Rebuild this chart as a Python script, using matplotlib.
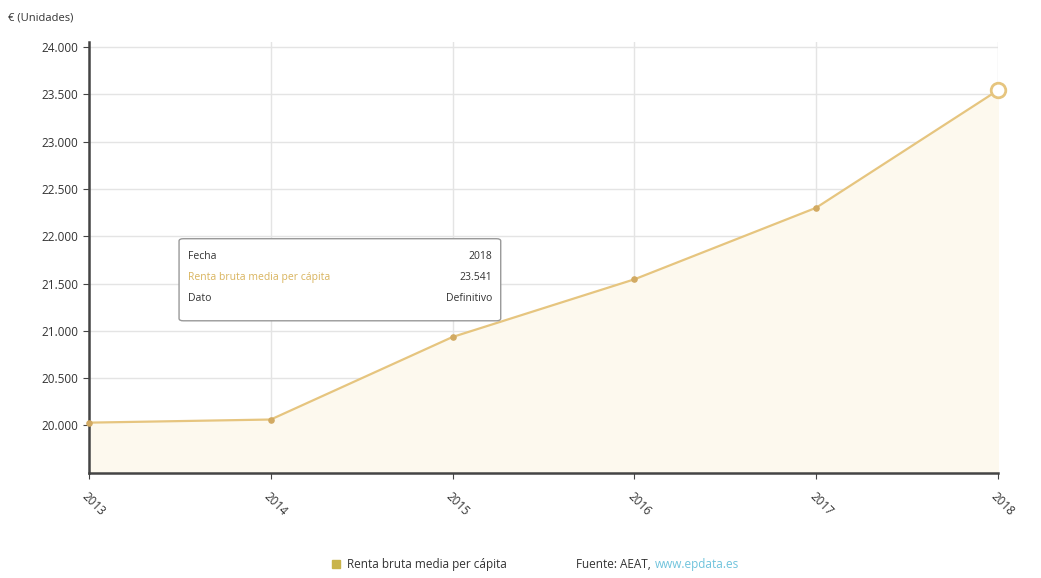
import matplotlib.pyplot as plt
from matplotlib.patches import FancyBboxPatch
from matplotlib.ticker import FuncFormatter

# Data
years = [2013, 2014, 2015, 2016, 2017, 2018]
renta = [20030, 20063, 20935, 21544, 22300, 23541]
y_ticks = [20000, 20500, 21000, 21500, 22000, 22500, 23000, 23500, 24000]

line_color = '#e6c57f'
dot_color = '#d2aa62'
fill_color = '#fdf9ee'

plt.rcParams['font.family'] = ['Open Sans', 'DejaVu Sans']

fig = plt.figure(figsize=(10.41, 5.78), dpi=100)
ax = fig.add_axes([0.0855, 0.182, 0.873, 0.745])

# Filled area and line
ax.fill_between(years, renta, 19400, color=fill_color, zorder=1)
ax.plot(years, renta, color=line_color, linewidth=1.6, zorder=3, clip_on=False)
ax.scatter(years[:-1], renta[:-1], s=14, color=dot_color, zorder=4, clip_on=False)
ax.scatter(years[-1:], renta[-1:], s=110, facecolor='white',
           edgecolor=line_color, linewidth=2, zorder=5, clip_on=False)

# Axes styling
ax.set_xlim(2013, 2018)
ax.set_ylim(19500, 24050)
ax.set_yticks(y_ticks)
ax.yaxis.set_major_formatter(FuncFormatter(lambda v, p: f'{int(v):,}'.replace(',', '.')))
ax.set_xticks(years)
ax.set_xticklabels([str(y) for y in years], rotation=-45, ha='left',
                   rotation_mode='anchor', fontsize=8.5, color='#333333')
ax.tick_params(axis='y', labelsize=8.5, labelcolor='#333333', length=4, color='#444444')
ax.tick_params(axis='x', length=4, color='#444444', pad=8)
ax.grid(True, color='#e4e4e4', linewidth=1)
ax.set_axisbelow(True)
for side in ['top', 'right']:
    ax.spines[side].set_visible(False)
for side in ['left', 'bottom']:
    ax.spines[side].set_color('#444444')
    ax.spines[side].set_linewidth(1.8)

# Unit label
fig.text(0.008, 0.968, '€ (Unidades)', fontsize=8, color='#333333', va='center')

# Tooltip box
box = FancyBboxPatch((0.172, 0.445), 0.309, 0.142, transform=fig.transFigure,
                     boxstyle='round,pad=0,rounding_size=0.004',
                     facecolor='white', edgecolor='#999999', linewidth=1, zorder=10)
fig.patches.append(box)
rows = [('Fecha', '2018', '#333333'),
        ('Renta bruta media per cápita', '23.541', '#d9b45e'),
        ('Dato', 'Definitivo', '#333333')]
for i, (k, v, c) in enumerate(rows):
    yy = 0.556 - i * 0.036
    fig.text(0.181, yy, k, fontsize=7.5, color=c, va='center', zorder=11)
    fig.text(0.473, yy, v, fontsize=7.5, color='#333333', va='center', ha='right', zorder=11)

# Legend and source
fig.patches.append(plt.Rectangle((0.3185, 0.0175), 0.008, 0.014, transform=fig.transFigure,
                                 color='#c9b44a'))
fig.text(0.333, 0.024, 'Renta bruta media per cápita', fontsize=8.5, color='#333333', va='center')
fig.text(0.553, 0.024, 'Fuente: AEAT,', fontsize=8.5, color='#333333', va='center')
fig.text(0.629, 0.024, 'www.epdata.es', fontsize=8.5, color='#6fc3dc', va='center')

fig.savefig('out.png', dpi=100)
